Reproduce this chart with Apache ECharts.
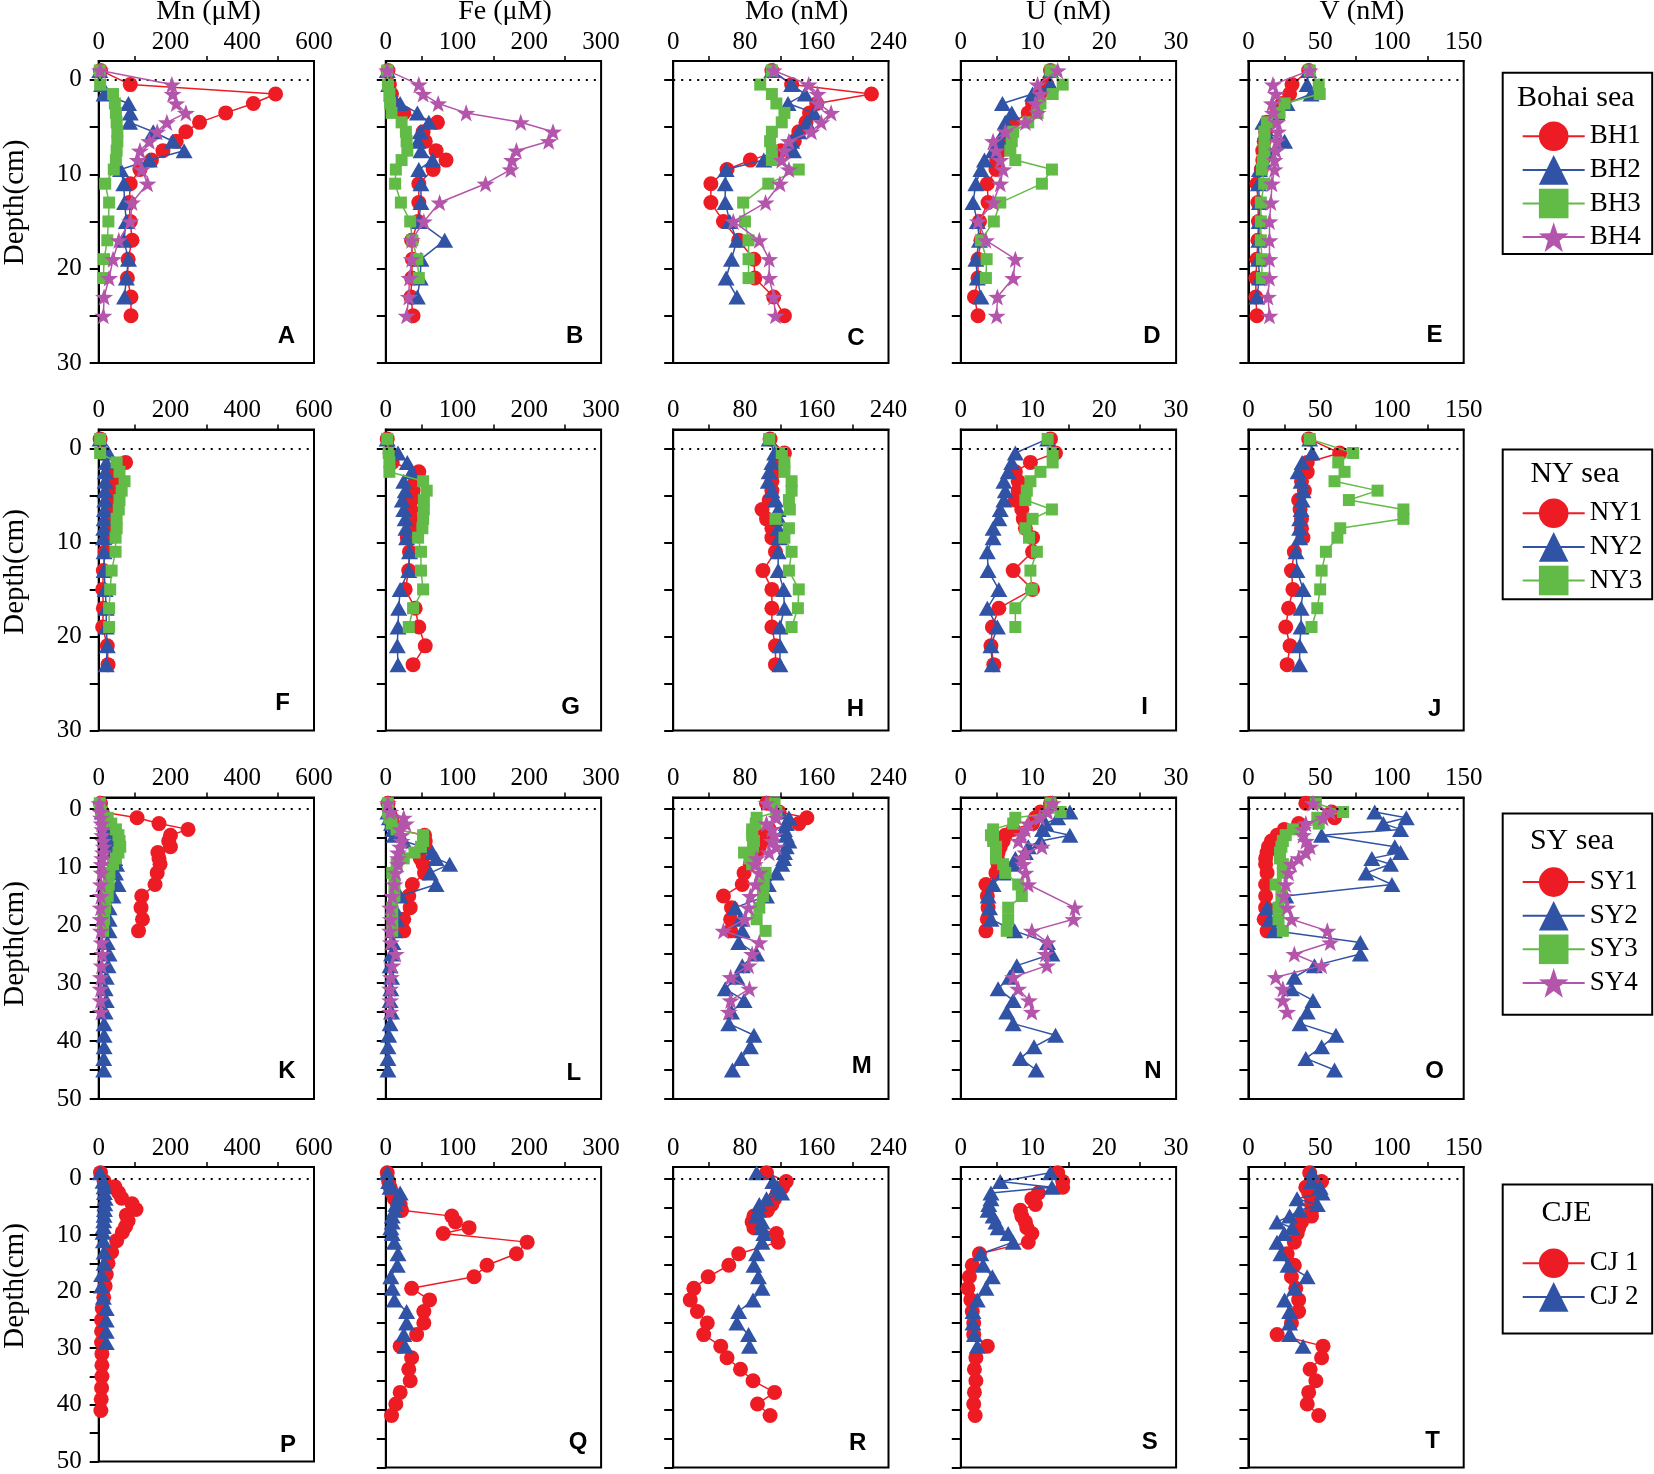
<!DOCTYPE html>
<html><head><meta charset="utf-8">
<script src="https://cdn.jsdelivr.net/npm/echarts@6/dist/echarts.min.js"></script>
<style>html,body{margin:0;padding:0;background:#fff}#c{width:1654px;height:1474px}</style>
</head><body><div id="c"></div>
<script>
// ---------- depths (cm) ----------
const depthBH  = [-1,0.5,1.5,2.5,3.5,4.5,5.5,6.5,7.5,8.5,9.5,11,13,15,17,19,21,23,25];
const depthNY  = [-1,0.5,1.5,2.5,3.5,4.5,5.5,6.5,7.5,8.5,9.5,11,13,15,17,19,21,23];
const depthSY1 = [-1,0.5,1.5,2.5,3.5,4.5,5.5,6.5,7.5,8.5,9.5,11,13,15,17,19,21];
const depthSY2 = [0.5,1.5,2.5,3.5,4.5,5.5,6.5,7.5,8.5,9.5,11,13,15,17,19,21,23,25,27,29,31,33,35,37,39,41,43,45];
const depthSY4 = [-1,0.5,1.5,2.5,3.5,4.5,5.5,6.5,7.5,8.5,9.5,11,13,15,17,19,21,23,25,27,29,31,33,35];
const depthCJ1 = [-1,0.5,1.5,2.5,3.5,4.5,5.5,6.5,7.5,8.5,9.5,11,13,15,17,19,21,23,25,27,29,31,33,35,37,39,41];
const depthCJ2 = [-1,0.5,1.5,2.5,3.5,4.5,5.5,6.5,7.5,8.5,9.5,11,13,15,17,19,21,23,25,27,29];

// ---------- Bohai sea ----------
const A_BH1 = [5,88,493,431,354,281,243,216,179,147,115,88,85,88,93,82,80,90,90];
const A_BH2 = [3,8,15,83,88,86,152,206,238,141,61,70,72,77,70,83,77,72];
const A_BH3 = [3,4,40,45,48,50,52,52,50,48,42,18,29,27,24,15,13];
const A_BH4 = [4,204,206,216,243,190,163,141,115,109,120,136,93,88,56,40,29,15,13];
const B_BH1 = [3,5,8,10,25,72,52,55,70,84,66,46,46,45,36,37,36,35,38];
const B_BH2 = [2,4,8,20,44,60,48,45,49,65,46,49,49,46,82,49,48,44];
const B_BH3 = [2,3,5,6,8,22,28,29,30,22,14,13,21,34,37,44,46];
const B_BH4 = [2,46,52,73,112,188,233,227,182,176,174,139,75,53,36,36,33,32,29];
const C_BH1 = [110,132,221,160,152,148,140,135,120,86,60,42,42,56,73,90,91,112,124];
const C_BH2 = [110,132,147,128,157,149,140,132,134,101,59,58,58,63,71,65,59,71];
const C_BH3 = [110,97,110,115,124,121,110,108,110,110,140,106,78,80,84,84,84];
const C_BH4 = [112,151,161,162,176,165,154,129,124,121,129,119,103,67,96,107,107,112,114];
const D_BH1 = [12.5,12.0,11.0,10.0,9.4,7.3,6.5,5.8,5.5,5.0,4.9,3.7,3.8,2.6,2.8,2.4,2.4,1.9,2.4];
const D_BH2 = [12.5,12.5,10.0,5.8,7.1,6.2,6.0,5.5,4.5,3.3,2.8,2.1,1.7,2.3,2.6,2.1,2.3,2.8];
const D_BH3 = [12.5,14.2,12.8,11.1,10.7,9.4,7.3,7.1,6.9,7.6,12.7,11.3,5.5,4.6,2.8,3.6,3.5];
const D_BH4 = [13.5,10.7,11.1,10.4,10.7,9.0,6.2,4.5,4.9,5.5,5.9,5.5,4.5,2.4,3.5,7.6,7.3,5.1,5.0];
const E_BH1 = [42,30.4,28.7,23.4,19.9,12.9,12,11,10,10,9,5.9,6.6,7,6.6,5.9,5.2,5.2,5.9];
const E_BH2 = [42,40.9,43.7,26.9,19.9,10.1,12,25.2,14,10,7.7,7,7.7,7.5,7.3,7,7.7,5.9];
const E_BH3 = [42.7,49,49.7,25.2,21.7,12.9,11.2,11.2,11.2,10.1,9.4,11,8.7,8.7,8.7,9.4,9.4];
const E_BH4 = [42.7,17.1,19.2,16.4,17.1,19.9,20.6,19.9,19.2,18.2,18.2,16.4,15.7,14.7,14.7,14.7,14.7,13.6,14.7];

// ---------- NY sea ----------
const F_NY1 = [4,10,75,45,40,36,35,33,32,30,28,18,13,11,13,11,24,26];
const F_NY2 = [4,27,21,18,18,17,17,16,15,14,13,15,15,18,21,21,24,21];
const F_NY3 = [4,4,50,58,72,64,58,56,50,50,47,47,36,32,29,29];
const G_NY1 = [2,6,9,46,41,38,36,35,36,36,30,33,32,27,41,46,55,38];
const G_NY2 = [2,17,30,36,25,27,23,25,27,28,29,33,32,20,18,17,16,17];
const G_NY3 = [2,4,5,5,52,57,53,53,52,51,45,49,49,52,38,32];
const H_NY1 = [108,124,121,113,110,110,107,99,104,110,110,114,100,110,110,110,114,114];
const H_NY2 = [107,113,110,107,106,110,114,117,118,117,118,117,117,123,124,119,119,119];
const H_NY3 = [107,121,124,124,132,132,129,130,114,129,124,132,129,140,139,132];
const I_NY1 = [12.5,13.2,9.7,7.6,8.0,8.0,7.6,8.5,8.7,9.0,10,10,7.3,10,5.3,4.4,4.2,4.6];
const I_NY2 = [12.1,7.6,7.1,6.6,6.0,6.2,6.0,5.5,5.3,4.5,4.5,3.7,3.8,5.3,3.7,5.1,4.2,4.4];
const I_NY3 = [12.1,12.8,12.8,11.1,9.7,9.2,9.0,12.7,10.0,9.0,9.5,10.6,9.7,9.9,7.6,7.6];
const J_NY1 = [42,63.6,41,41,37,39,35,36,37,37,38,32,30,31,28,26,29,27];
const J_NY2 = [42.7,44.4,37.4,34.6,36.7,38.1,37.4,36.7,35.7,35.7,35.7,33.2,33.9,38.1,36.7,36.7,35.7,35.7];
const J_NY3 = [42.7,73,62.6,67,60,90,70,108,108,64,62,54,51,50,48,44];

// ---------- SY sea ----------
const K_SY1 = [5,10,107,168,249,200,195,200,165,168,171,163,157,120,118,122,111];
const K_SY2 = [10,18,22,29,32,34,38,40,45,50,47,54,40,29,29,29,24,29,26,21,18,21,18,15,15,15,14,14];
const K_SY3 = [3,8,25,35,48,55,58,60,55,48,40,30,28,25,18,15,12];
const K_SY4 = [2,5,6,8,10,10,12,14,12,10,8,8,6,6,5,5,6,8,10,8,6,5,5,6];
const L_SY1 = [3,5,8,10,15,54,55,55,46,48,52,54,37,32,34,25,25];
const L_SY2 = [3,5,8,10,12,25,50,65,70,89,62,70,20,12,15,12,10,8,6,8,7,6,8,6,4,3,3,3];
const L_SY3 = [3,3,5,8,15,52,52,49,40,25,15,9,12,12,9,9,9];
const L_SY4 = [3,6,25,28,20,22,22,20,17,17,17,14,12,9,6,7,6,7,14,9,7,6,6,6];
const M_SY1 = [104,118,149,140,107,101,99,96,93,90,86,79,77,56,65,64,64];
const M_SY2 = [118,129,126,124,126,129,126,124,123,121,115,106,104,69,75,77,73,93,77,71,58,79,65,62,90,86,76,66];
const M_SY3 = [113,115,93,92,88,88,90,89,79,85,88,103,101,100,96,93,103];
const M_SY4 = [104,115,115,104,110,113,110,115,107,93,91,96,92,86,84,80,56,96,88,84,64,85,64,62];
const N_SY1 = [12.5,11.1,10.4,10.0,7.3,6.2,5.9,5.5,5.2,5.1,5.2,4.9,3.5,3.7,3.8,3.7,3.5];
const N_SY2 = [15.2,13.5,11.8,11.4,15.2,11.1,9.4,9.0,7.6,7.3,5.9,4.5,3.8,4.0,4.2,7.5,12.1,12.7,7.8,6.8,5.2,7.3,6.4,7.3,13.2,10.2,8.3,10.5];
const N_SY3 = [12.5,13.9,7.6,7.3,4.5,4.2,4.5,4.9,4.9,4.9,5.9,6.2,8.0,8.5,6.6,6.6,6.4];
const N_SY4 = [12.8,12.1,11,9.4,9.0,8.5,8.0,11.3,9.0,8.5,8.7,9.0,9.4,null,15.9,15.7,9.9,12.1,11.8,12.0,7.3,8.0,9.5,9.9];
const O_SY1 = [40,58,60,35,25,20,16,14,13,12,12,13,12,12,12,11,13];
const O_SY2 = [88,110,94,106,51,null,102,106,86,99,82,100,26,13,15,18,78,78,46,32,30,45,41,36,61,51,40,60];
const O_SY3 = [47,66,48,49,31,26,24,23,22,22,24,24,19,23,21,21,24];
const O_SY4 = [45,57,52,40,38,38,40,43,40,35,30,28,26,25,27,30,55,57,32,51,19,24,24,27];

// ---------- CJE ----------
const P_CJ1 = [5,15,45,55,64,93,104,77,82,75,66,50,36,26,21,18,14,10,8,8,8,9,9,9,8,7,6];
const P_CJ2 = [4,12,15,16,18,17,16,15,14,13,12,13,15,15,8,8,13,21,21,21,21];
const Q_CJ1 = [2,4,6,9,12,20,22,92,97,116,80,197,182,141,123,36,61,53,53,43,20,36,32,34,20,14,8];
const Q_CJ2 = [2,4,6,20,17,14,12,9,9,7,9,12,17,16,7,9,12,29,29,25,27];
const R_CJ1 = [104,126,122,116,113,110,105,90,88,90,115,117,73,62,39,23,19,27,38,34,53,60,75,89,113,94,108];
const R_CJ2 = [93,111,116,121,104,96,95,93,99,99,101,99,93,90,95,99,89,73,71,84,85];
const S_CJ1 = [13.5,14.2,14.2,10.8,9.9,10.4,8.3,8.5,9.0,9.2,9.9,9.4,2.6,1.6,1.2,1.0,1.4,1.6,1.8,1.8,3.7,2.1,1.9,2.1,1.9,1.8,2.0];
const S_CJ2 = [12.5,5.5,12.7,4.2,4.2,3.9,3.8,4.5,4.9,5.2,6.6,7.3,2.8,3.1,4.4,3.5,2.3,1.7,1.7,1.9,2.3];
const T_CJ1 = [42.7,51,40,42,44,44,44,44,37,35,34,32,27,32,30,33,35,35,30,20,52,51,43,47,42,41,49];
const T_CJ2 = [44.4,44,50,51.4,33.9,48,35.7,28.7,19.9,30.4,25,19.9,22.7,27.6,40.9,32.2,25.2,28.7,28.7,28.7,38.1];

// ---------- axes / labels ----------
const columnTitles = ['Mn (μM)','Fe (μM)','Mo (nM)','U (nM)','V (nM)'];
const xMax = [600,300,240,30,150];
const xStep = [200,100,80,10,50];
const rowDepthMax = [30,30,50,50];
const depthTicks30 = [0,5,10,15,20,25,30];
const depthLabels30 = [0,10,20,30];
const depthTicks50 = [0,5,10,15,20,25,30,35,40,45,50];
const depthLabels50 = [0,10,20,30,40,50];
const panelLetters = ['A','B','C','D','E','F','G','H','I','J','K','L','M','N','O','P','Q','R','S','T'];
const legendTitles = ['Bohai sea','NY sea','SY sea','CJE'];

const rows = [
  {names:['BH1','BH2','BH3','BH4'], depths:[depthBH,depthBH,depthBH,depthBH],
   vals:[[A_BH1,A_BH2,A_BH3,A_BH4],[B_BH1,B_BH2,B_BH3,B_BH4],[C_BH1,C_BH2,C_BH3,C_BH4],[D_BH1,D_BH2,D_BH3,D_BH4],[E_BH1,E_BH2,E_BH3,E_BH4]]},
  {names:['NY1','NY2','NY3'], depths:[depthNY,depthNY,depthNY],
   vals:[[F_NY1,F_NY2,F_NY3],[G_NY1,G_NY2,G_NY3],[H_NY1,H_NY2,H_NY3],[I_NY1,I_NY2,I_NY3],[J_NY1,J_NY2,J_NY3]]},
  {names:['SY1','SY2','SY3','SY4'], depths:[depthSY1,depthSY2,depthSY1,depthSY4],
   vals:[[K_SY1,K_SY2,K_SY3,K_SY4],[L_SY1,L_SY2,L_SY3,L_SY4],[M_SY1,M_SY2,M_SY3,M_SY4],[N_SY1,N_SY2,N_SY3,N_SY4],[O_SY1,O_SY2,O_SY3,O_SY4]]},
  {names:['CJ 1','CJ 2'], depths:[depthCJ1,depthCJ2],
   vals:[[P_CJ1,P_CJ2],[Q_CJ1,Q_CJ2],[R_CJ1,R_CJ2],[S_CJ1,S_CJ2],[T_CJ1,T_CJ2]]}
];

// ---------- styling / layout ----------
const SERIF = 'Liberation Serif';
const STAR = 'path://M0,-10 L2.351,-3.236 L9.511,-3.09 L3.804,1.236 L5.878,8.09 L0,4 L-5.878,8.09 L-3.804,1.236 L-9.511,-3.09 L-2.351,-3.236 Z';
const markStyles = [
  {symbol:'circle', size:15, color:'#ED1C24'},
  {symbol:'triangle', size:[17,15], color:'#3153A5'},
  {symbol:'rect', size:12, color:'#62BB46'},
  {symbol:STAR, size:18, color:'#B455AC'}
];
const gridLeft = [98.7,385.8,673.2,960.8,1248.4];
const gridW = 215.3;
const gridTop = [61,429.5,797.5,1167];
const gridH = [302,301,301.5,300.5];
const titleX = [208.6,505,796.6,1068.5,1362];
const depthLabelY = [202.5,572,944,1286];
const letterPos = [[286.4,336.7],[574.6,336.7],[856,338],[1152,336.7],[1434.6,335.5],
  [282.7,703.6],[570.7,707.8],[855.5,708.9],[1144.5,707.8],[1434.6,708.9],
  [287,1071.7],[573.8,1073.8],[861.8,1066.4],[1153,1071.7],[1434.6,1071.7],
  [288,1445],[578,1442],[857.6,1443],[1149.8,1442],[1432.5,1441]];
const legendTop = [121.5,498.5,867.3,1248.5];
const legendBox = [[72.7,254],[449.4,599.2],[813.4,1014.8],[1184.6,1333.4]];
const legendTitlePos = [[1575.8,98],[1575,474],[1572,841],[1566.5,1213.5]];

// tick label text style applied through rich text so it is used by the label renderer
const tickRich = {t:{fontFamily:SERIF, fontSize:25, color:'#000', fontWeight:'normal', lineHeight:26}};
const tickFmt = v => '{t|' + v + '}';

const grids = [], xAxes = [], yAxes = [], series = [], graphics = [];
rows.forEach((row, r) => {
  for (let c = 0; c < 5; c++) {
    const g = grids.length;
    grids.push({left:gridLeft[c], top:gridTop[r], width:gridW, height:gridH[r],
      show:true, borderColor:'#000', borderWidth:2, backgroundColor:'rgba(0,0,0,0)', containLabel:false});
    xAxes.push({gridIndex:g, type:'value', position:'top', min:0, max:xMax[c], interval:xStep[c],
      axisLine:{show:true, onZero:false, lineStyle:{color:'#000', width:2}},
      axisTick:{show:false},
      minorTick:{show:true, splitNumber:2, length:5, lineStyle:{color:'#000', width:1.5}},
      axisLabel:{show:true, margin:6, fontFamily:SERIF, fontSize:25, color:'#000',
        formatter:tickFmt, rich:tickRich},
      splitLine:{show:false}, minorSplitLine:{show:false}});
    const big = rowDepthMax[r] === 50;
    yAxes.push({gridIndex:g, type:'value', inverse:true, min:-2, max:rowDepthMax[r],
      axisLine:{show:true, onZero:false, lineStyle:{color:'#000', width:2}},
      axisTick:{show:true, length:9, customValues: big ? depthTicks50 : depthTicks30, lineStyle:{color:'#000', width:2}},
      axisLabel:{show:c === 0, customValues: big ? depthLabels50 : depthLabels30, margin:17,
        fontFamily:SERIF, fontSize:25, color:'#000', formatter:tickFmt, rich:tickRich},
      splitLine:{show:false}});
    row.names.forEach((name, s) => {
      const vals = row.vals[c][s];
      const dep = row.depths[s];
      const pts = [];
      vals.forEach((v, i) => { if (v !== null && v !== undefined) pts.push([v, dep[i]]); });
      const st = markStyles[s];
      const ser = {type:'line', name:name, xAxisIndex:g, yAxisIndex:g, data:pts,
        symbol:st.symbol, symbolSize:st.size, symbolKeepAspect:true, showSymbol:true,
        itemStyle:{color:st.color, opacity:1}, lineStyle:{color:st.color, width:1.5},
        emphasis:{disabled:true}, z:2 + s, animation:false};
      if (s === 0) {
        ser.markLine = {silent:true, symbol:['none','none'], label:{show:false}, animation:false,
          lineStyle:{color:'#000', type:[2,6], width:2}, emphasis:{disabled:true}, data:[{yAxis:0}]};
      }
      series.push(ser);
    });
    const L = letterPos[g];
    graphics.push({type:'text', x:L[0], y:L[1], z:100, silent:true,
      style:{text:panelLetters[g], fontFamily:'Liberation Sans', fontWeight:'bold', fontSize:24, fill:'#000',
        align:'center', verticalAlign:'middle', textAlign:'center', textVerticalAlign:'middle'}});
  }
  graphics.push({type:'text', x:15.7, y:depthLabelY[r], rotation:Math.PI/2, silent:true,
    style:{text:'Depth(cm)', fontFamily:SERIF, fontSize:29, fill:'#000',
      align:'center', verticalAlign:'middle', textAlign:'center', textVerticalAlign:'middle'}});
  const B = legendBox[r];
  graphics.push({type:'rect', silent:true, shape:{x:1502.7, y:B[0], width:149.5, height:B[1]-B[0]},
    style:{fill:'none', stroke:'#000', lineWidth:2}});
  const T = legendTitlePos[r];
  graphics.push({type:'text', x:T[0], y:T[1], silent:true,
    style:{text:legendTitles[r], fontFamily:SERIF, fontSize:30, fill:'#000',
      align:'center', verticalAlign:'middle', textAlign:'center', textVerticalAlign:'middle'}});
});
columnTitles.forEach((t, c) => {
  graphics.push({type:'text', x:titleX[c], y:11.5, silent:true,
    style:{text:t, fontFamily:SERIF, fontSize:28, fill:'#000',
      align:'center', verticalAlign:'middle', textAlign:'center', textVerticalAlign:'middle'}});
});

const legends = rows.map((row, r) => ({
  data: row.names, orient:'vertical', left:1521.7, top:legendTop[r], padding:0,
  itemWidth:62, itemHeight:37, itemGap:4, selectedMode:false,
  textStyle:{fontFamily:SERIF, fontSize:27, color:'#000'},
  lineStyle:{width:2}
}));

const chart = echarts.init(document.getElementById('c'), null, {renderer:'canvas'});
chart.setOption({
  animation:false,
  backgroundColor:'#fff',
  textStyle:{fontFamily:SERIF},
  grid:grids, xAxis:xAxes, yAxis:yAxes, series:series,
  legend:legends,
  graphic:{elements:graphics}
});
</script>
</body></html>
